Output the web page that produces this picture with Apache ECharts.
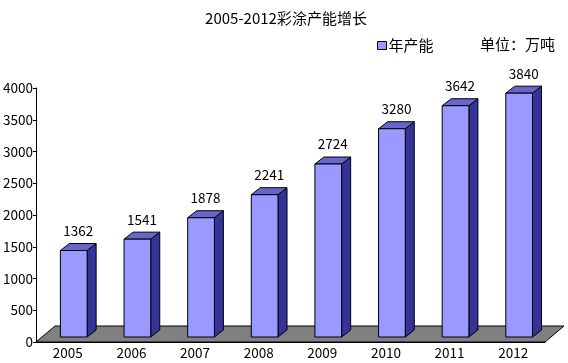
<!DOCTYPE html>
<html><head><meta charset="utf-8">
<script src="https://cdn.jsdelivr.net/npm/echarts@6/dist/echarts.min.js"></script>
<style>html,body{margin:0;padding:0;background:#fff}#c{width:568px;height:363px}</style>
</head><body><div id="c"></div>
<script>
var years = ['2005','2006','2007','2008','2009','2010','2011','2012'];
var capacity = [1362,1541,1878,2241,2724,3280,3642,3840];
var yTicks = [0,500,1000,1500,2000,2500,3000,3500,4000];
var titleText = '2005-2012彩涂产能增长';
var seriesName = '年产能';
var unitText = '单位：万吨';

var FONT = '"Noto Sans CJK SC", sans-serif';
var chart = echarts.init(document.getElementById('c'), null, {renderer:'canvas'});

function renderFloor(params, api){
  var cs = params.coordSys;
  var x = cs.x, y = cs.y + cs.height, w = cs.width;
  var dx = 19, dy = -16;
  return {type:'polygon', z2:0, shape:{points:[[x,y],[x+w,y],[x+w+dx,y+dy],[x+dx,y+dy]]},
    style:{fill:'#808080', stroke:'#000', lineWidth:1}};
}
function renderBar(params, api){
  var i = api.value(0), v = api.value(1);
  var base = api.coord([i, 0]);
  var top = api.coord([i, v]);
  var bw = api.size([1,0])[0];
  var w = bw*0.42, ox = bw*0.094, oy = -5, dx = 9, dy = -7;
  var xl = base[0] + ox - w/2, xr = xl + w;
  var yb = base[1] + oy, yt = top[1] + oy;
  return {type:'group', children:[
    {type:'polygon', shape:{points:[[xr,yb],[xr+dx,yb+dy],[xr+dx,yt+dy],[xr,yt]]}, style:{fill:'#333399', stroke:'#000', lineWidth:1}},
    {type:'polygon', shape:{points:[[xl,yt],[xr,yt],[xr+dx,yt+dy],[xl+dx,yt+dy]]}, style:{fill:'#6666CC', stroke:'#000', lineWidth:1}},
    {type:'rect', shape:{x:xl, y:yt, width:w, height:yb-yt}, style:{fill:'#9999FF', stroke:'#000', lineWidth:1}},
    {type:'text', style:{text:String(v), x:xl+(w+dx)/2, y:yt+dy-6, textAlign:'center', textVerticalAlign:'bottom', fill:'#000', font:'13.5px '+FONT}}
  ]};
}

chart.setOption({
  animation:false,
  textStyle:{fontFamily:FONT},
  title:[
    {text:titleText, left:281, top:6, textAlign:'center', textStyle:{fontSize:15, fontWeight:'normal', color:'#000', fontFamily:FONT}},
    {text:unitText, left:475, top:32, textStyle:{fontSize:15, fontWeight:'normal', color:'#000', fontFamily:FONT}}
  ],
  legend:{left:372, top:33, itemWidth:9, itemHeight:8, itemGap:4,
    data:[{name:seriesName, icon:'rect', itemStyle:{color:'#9999FF', borderColor:'#000', borderWidth:1}}],
    textStyle:{fontSize:15, color:'#000', fontFamily:FONT, padding:[0,0,0,-3]}},
  grid:{left:35, right:23, top:88, bottom:21},
  xAxis:{type:'category', data:years, boundaryGap:true,
    axisLine:{lineStyle:{color:'#000'}},
    axisTick:{show:true, inside:true, length:4, interval:0, lineStyle:{color:'#000'}},
    axisLabel:{color:'#000', fontSize:13.5, margin:4, fontFamily:FONT}},
  yAxis:{type:'value', min:0, max:4000, interval:500,
    axisLine:{show:true, lineStyle:{color:'#000'}},
    axisTick:{show:true, length:3, lineStyle:{color:'#000'}},
    splitLine:{show:false},
    axisLabel:{color:'#000', fontSize:13.5, margin:3, fontFamily:FONT,
      formatter:function(v){return String(v);}}},
  series:[
    {type:'custom', name:'floor', renderItem:renderFloor, data:[[0]], z:1, silent:true},
    {type:'custom', name:seriesName, renderItem:renderBar, z:2,
      itemStyle:{color:'#9999FF'},
      encode:{x:0, y:1},
      data:capacity.map(function(v,i){return [i,v];})}
  ]
});
</script></body></html>
